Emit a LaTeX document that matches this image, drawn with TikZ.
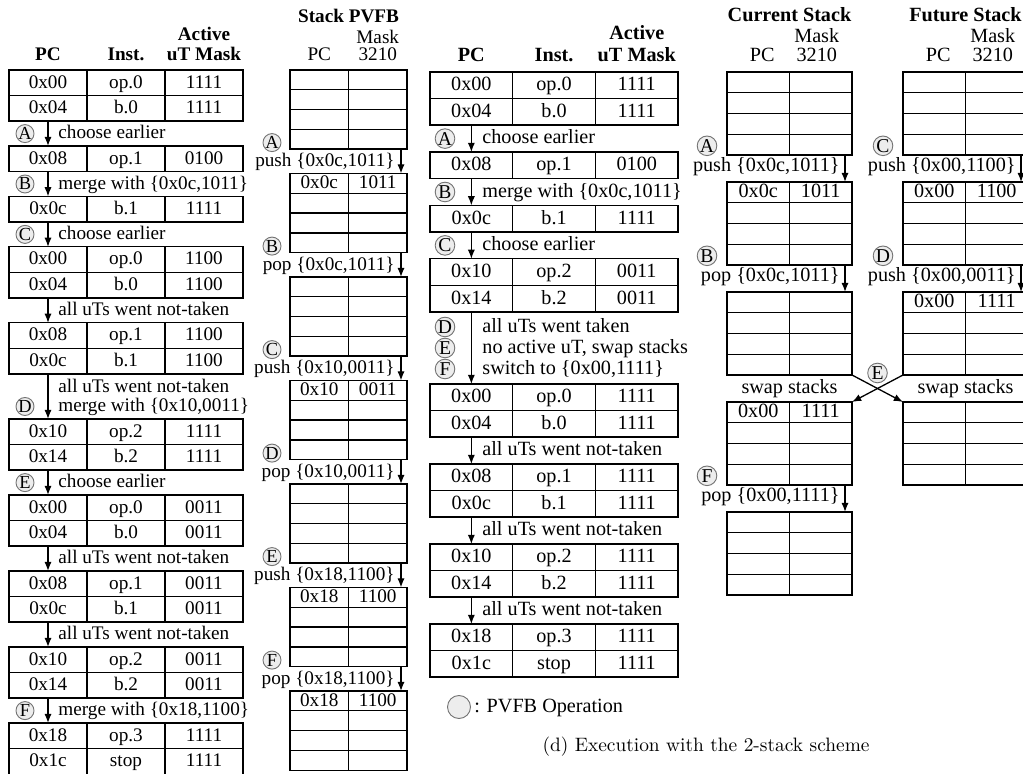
\documentclass[tikz,border=0pt]{standalone}
\usepackage{fontspec}
\newfontfamily\tms{Liberation Serif}
\usetikzlibrary{arrows.meta, positioning, calc}

\begin{document}
\begin{tikzpicture}[
    x=0.5pt, y=-0.5pt,
    lfont/.style={font=\tms\fontsize{9.6pt}{11pt}\selectfont},
    rfont/.style={font=\tms\fontsize{10.1pt}{12pt}\selectfont},
    lhd/.style={font=\tms\bfseries\fontsize{9.6pt}{11pt}\selectfont, inner sep=0pt},
    rhd/.style={font=\tms\bfseries\fontsize{10.1pt}{12pt}\selectfont, inner sep=0pt},
    lcell/.style={lfont, draw, line width=0.7pt, minimum width=39pt, minimum height=12.8pt, inner sep=0pt, outer sep=0pt, anchor=north west, text height=1.5ex, text depth=0.25ex},
    rcell/.style={rfont, draw, line width=0.7pt, minimum width=41.35pt, minimum height=13.3pt, inner sep=0pt, outer sep=0pt, anchor=north west, text height=1.5ex, text depth=0.25ex},
    lslot/.style={draw, line width=0.7pt, minimum width=29.25pt, minimum height=9.9pt, inner sep=0pt, outer sep=0pt, anchor=north west},
    rslot/.style={draw, line width=0.7pt, minimum width=31.25pt, minimum height=10.375pt, inner sep=0pt, outer sep=0pt, anchor=north west},
    ltxt/.style={lfont, inner sep=0pt, text height=1.5ex, text depth=0.25ex},
    rtxt/.style={rfont, inner sep=0pt, text height=1.5ex, text depth=0.25ex},
    lop/.style={circle, draw=black!55, fill=black!7, line width=0.45pt, inner sep=0pt, minimum size=9pt, font=\tms\fontsize{9.2pt}{10pt}\selectfont},
    rop/.style={circle, draw=black!55, fill=black!7, line width=0.45pt, inner sep=0pt, minimum size=9.8pt, font=\tms\fontsize{9.8pt}{10pt}\selectfont},
    arr/.style={draw, -{Latex[length=4.6pt, width=3.6pt]}, line width=0.65pt}
]
    \useasboundingbox (0,0) rectangle (1023,774);
    \clip (0,0) rectangle (1023,774);

    % Left: execution with the PVFB stack
    \foreach \nm/\y/\pc/\ins/\msk in {l1a/70/0x00/op.0/1111, l1b/95.6/0x04/b.0/1111,
        l2a/146/0x08/op.1/0100, l3a/196.4/0x0c/b.1/1111,
        l4a/246.8/0x00/op.0/1100, l4b/272.4/0x04/b.0/1100,
        l5a/322.8/0x08/op.1/1100, l5b/348.4/0x0c/b.1/1100,
        l6a/419/0x10/op.2/1111, l6b/444.6/0x14/b.2/1111,
        l7a/495/0x00/op.0/0011, l7b/520.6/0x04/b.0/0011,
        l8a/571/0x08/op.1/0011, l8b/596.6/0x0c/b.1/0011,
        l9a/647/0x10/op.2/0011, l9b/672.6/0x14/b.2/0011,
        l10a/723/0x18/op.3/1111, l10b/748.6/0x1c/stop/1111} {
        \node [lcell] (\nm-pc) at (9,\y) {\pc};
        \node [lcell, right=0pt of \nm-pc] (\nm-in) {\ins};
        \node [lcell, right=0pt of \nm-in] (\nm-mk) {\msk};
    }
    \node [lhd, above=4.3pt of l1a-pc] (lhpc) {PC};
    \node [lhd, above=4.3pt of l1a-in] (lhin) {Inst.};
    \node [lhd, above=4.3pt of l1a-mk] (lhmk) {uT Mask};
    \node [lhd, above=3.1pt of lhmk] (lhact) {Active};

    \foreach \a/\b in {l1b/l2a, l2a/l3a, l3a/l4a, l4b/l5a, l5b/l6a, l6b/l7a, l7b/l8a, l8b/l9a, l9b/l10a}
        \path [arr] (\a-pc.south) -- (\b-pc.north);

    \node [lop] (lA) at (25,133.6) {A};
    \node [ltxt, anchor=west] (lAt) at (58,133.6) {choose earlier};
    \node [lop] (lB) at (25,184) {B};
    \node [ltxt, anchor=west] (lBt) at (58,184) {merge with \{0x0c,1011\}};
    \node [lop] (lC) at (25,234.4) {C};
    \node [ltxt, anchor=west] (lCt) at (58,234.4) {choose earlier};
    \node [ltxt, anchor=west] (lnt1) at (58,310.4) {all uTs went not-taken};
    \node [ltxt, anchor=west] (lnt2) at (58,387.5) {all uTs went not-taken};
    \node [lop] (lD) at (25,406.5) {D};
    \node [ltxt, anchor=west] (lDt) at (58,406.5) {merge with \{0x10,0011\}};
    \node [lop] (lE) at (25,482.6) {E};
    \node [ltxt, anchor=west] (lEt) at (58,482.6) {choose earlier};
    \node [ltxt, anchor=west] (lnt3) at (58,558.6) {all uTs went not-taken};
    \node [ltxt, anchor=west] (lnt4) at (58,634.6) {all uTs went not-taken};
    \node [lop] (lF) at (25,710.6) {F};
    \node [ltxt, anchor=west] (lFt) at (58,710.6) {merge with \{0x18,1100\}};

    % Stack PVFB
    \foreach \s/\tp in {1/70, 2/173.5, 3/277, 4/380.5, 5/484, 6/587.5, 7/691}
        \foreach \rw in {1,2,3,4} {
            \node [lslot] (p\s-\rw-a) at (290,\tp+19.8*\rw-19.8) {};
            \node [lslot, right=0pt of p\s-\rw-a] (p\s-\rw-b) {};
        }
    \node [lhd] (pvfb) at (348.5,16) {Stack PVFB};
    \node [ltxt, above=4.25pt of p1-1-a, text height=, text depth=] (phpc) {PC};
    \node [ltxt, above=4.25pt of p1-1-b, text height=, text depth=] (phmk) {3210};
    \node [ltxt, above=2pt of phmk, text height=, text depth=] (phmask) {Mask};

    \node [ltxt] (p2v) at (p2-1-a) {0x0c};
    \node [ltxt] (p2m) at (p2-1-b) {1011};
    \node [ltxt] (p4v) at (p4-1-a) {0x10};
    \node [ltxt] (p4m) at (p4-1-b) {0011};
    \node [ltxt] (p6v) at (p6-1-a) {0x18};
    \node [ltxt] (p6m) at (p6-1-b) {1100};
    \node [ltxt] (p7v) at (p7-1-a) {0x18};
    \node [ltxt] (p7m) at (p7-1-b) {1100};

    \foreach \s/\nx/\ltr/\opn/\pcv/\mkv in {1/2/A/push/0x0c/1011, 2/3/B/pop/0x0c/1011,
        3/4/C/push/0x10/0011, 4/5/D/pop/0x10/0011, 5/6/E/push/0x18/1100, 6/7/F/pop/0x18/1100} {
        \node [lop] (pc\s) at ([xshift=-9pt,yshift=3.3pt]p\s-4-a.south west) {\ltr};
        \node [ltxt, anchor=east] (pl\s) at ([xshift=-6pt,yshift=-6pt]p\s-4-b.south east) {\opn\ \{\pcv,\mkv\}};
        \path [arr] ([xshift=-3pt]p\s-4-b.south east) -- ([xshift=-3pt]p\nx-1-b.north east);
    }

    % Right: execution with the 2-stack scheme
    \foreach \nm/\y/\pc/\ins/\msk in {m1a/72/0x00/op.0/1111, m1b/98.6/0x04/b.0/1111,
        m2a/152/0x08/op.1/0100, m3a/205.4/0x0c/b.1/1111,
        m4a/258.8/0x10/op.2/0011, m4b/285.4/0x14/b.2/0011,
        m5a/384/0x00/op.0/1111, m5b/410.6/0x04/b.0/1111,
        m6a/464/0x08/op.1/1111, m6b/490.6/0x0c/b.1/1111,
        m7a/544/0x10/op.2/1111, m7b/570.6/0x14/b.2/1111,
        m8a/624/0x18/op.3/1111, m8b/650.6/0x1c/stop/1111} {
        \node [rcell] (\nm-pc) at (430,\y) {\pc};
        \node [rcell, right=0pt of \nm-pc] (\nm-in) {\ins};
        \node [rcell, right=0pt of \nm-in] (\nm-mk) {\msk};
    }
    \node [rhd, above=5.1pt of m1a-pc] (mhpc) {PC};
    \node [rhd, above=5.1pt of m1a-in] (mhin) {Inst.};
    \node [rhd, above=5.1pt of m1a-mk] (mhmk) {uT Mask};
    \node [rhd, above=3.3pt of mhmk] (mhact) {Active};

    \foreach \a/\b in {m1b/m2a, m2a/m3a, m3a/m4a, m4b/m5a, m5b/m6a, m6b/m7a, m7b/m8a}
        \path [arr] (\a-pc.south) -- (\b-pc.north);

    \node [rop] (mA) at (445,138.6) {A};
    \node [rtxt, anchor=west] (mAt) at (482,138.6) {choose earlier};
    \node [rop] (mB) at (445,192) {B};
    \node [rtxt, anchor=west] (mBt) at (482,192) {merge with \{0x0c,1011\}};
    \node [rop] (mC) at (445,245.4) {C};
    \node [rtxt, anchor=west] (mCt) at (482,245.4) {choose earlier};
    \node [rop] (mD) at (445,327) {D};
    \node [rtxt, anchor=west] (mDt) at (482,327) {all uTs went taken};
    \node [rop] (mE) at (445,348) {E};
    \node [rtxt, anchor=west] (mEt) at (482,348) {no active uT, swap stacks};
    \node [rop] (mF) at (445,369) {F};
    \node [rtxt, anchor=west] (mFt) at (482,369) {switch to \{0x00,1111\}};
    \node [rtxt, anchor=west] (mnt1) at (482,450.6) {all uTs went not-taken};
    \node [rtxt, anchor=west] (mnt2) at (482,530.6) {all uTs went not-taken};
    \node [rtxt, anchor=west] (mnt3) at (482,610.6) {all uTs went not-taken};

    % Current and future stacks
    \foreach \s/\tp in {1/72, 2/182, 3/292, 4/402, 5/512}
        \foreach \rw in {1,2,3,4} {
            \node [rslot] (c\s-\rw-a) at (727,\tp+20.75*\rw-20.75) {};
            \node [rslot, right=0pt of c\s-\rw-a] (c\s-\rw-b) {};
        }
    \foreach \s/\tp in {1/72, 2/182, 3/292, 4/402}
        \foreach \rw in {1,2,3,4} {
            \node [rslot] (f\s-\rw-a) at (903,\tp+20.75*\rw-20.75) {};
            \node [rslot, right=0pt of f\s-\rw-a] (f\s-\rw-b) {};
        }
    \node [rhd] (cur) at (789.5,15) {Current Stack};
    \node [rtxt, above=5.1pt of c1-1-a, xshift=2pt, text height=, text depth=] (chpc) {PC};
    \node [rtxt, above=5.1pt of c1-1-b, xshift=-2pt, text height=, text depth=] (chmk) {3210};
    \node [rtxt, above=2.2pt of chmk, text height=, text depth=] (chmask) {Mask};
    \node [rhd] (fut) at (965.5,15) {Future Stack};
    \node [rtxt, above=5.1pt of f1-1-a, xshift=2pt, text height=, text depth=] (fhpc) {PC};
    \node [rtxt, above=5.1pt of f1-1-b, xshift=-2pt, text height=, text depth=] (fhmk) {3210};
    \node [rtxt, above=2.2pt of fhmk, text height=, text depth=] (fhmask) {Mask};

    \node [rtxt] (c2v) at (c2-1-a) {0x0c};
    \node [rtxt] (c2m) at (c2-1-b) {1011};
    \node [rtxt] (c4v) at (c4-1-a) {0x00};
    \node [rtxt] (c4m) at (c4-1-b) {1111};
    \node [rtxt] (f2v) at (f2-1-a) {0x00};
    \node [rtxt] (f2m) at (f2-1-b) {1100};
    \node [rtxt] (f3v) at (f3-1-a) {0x00};
    \node [rtxt] (f3m) at (f3-1-b) {1111};

    \foreach \k/\s/\nx/\ltr/\opn/\pcv/\mkv in {c/1/2/A/push/0x0c/1011, c/2/3/B/pop/0x0c/1011,
        c/4/5/F/pop/0x00/1111, f/1/2/C/push/0x00/1100, f/2/3/D/push/0x00/0011} {
        \node [rop] (\k op\s) at ([xshift=-10pt,yshift=4.6pt]\k\s-4-a.south west) {\ltr};
        \node [rtxt, anchor=east] (\k l\s) at ([xshift=-6pt,yshift=-5.8pt]\k\s-4-b.south east) {\opn\ \{\pcv,\mkv\}};
        \path [arr] ([xshift=-3.5pt]\k\s-4-b.south east) -- ([xshift=-3.5pt]\k\nx-1-b.north east);
    }

    % Swap
    \node [rtxt] (cswp) at ([yshift=-6.5pt]c3-4-a.south east) {swap stacks};
    \node [rtxt] (fswp) at ([yshift=-6.5pt]f3-4-a.south east) {swap stacks};
    \path [arr] (c3-4-b.south east) -- (f4-1-a.north west);
    \path [arr] (f3-4-a.south west) -- (c4-1-b.north east);
    \node [rop] (swE) at ([yshift=1pt]$(c3-4-b.south east)!0.5!(f3-4-a.south west)$) {E};

    % Legend and caption
    \node [rop, minimum size=11.5pt] (legop) at (459,707) {};
    \node [rtxt, right=1.5pt of legop] (legtx) {: PVFB Operation};
    \node [font=\fontsize{9.7pt}{12pt}\selectfont, inner sep=0pt] (cap) at (706,747) {(d) Execution with the 2-stack scheme};

\end{tikzpicture}
\end{document}
